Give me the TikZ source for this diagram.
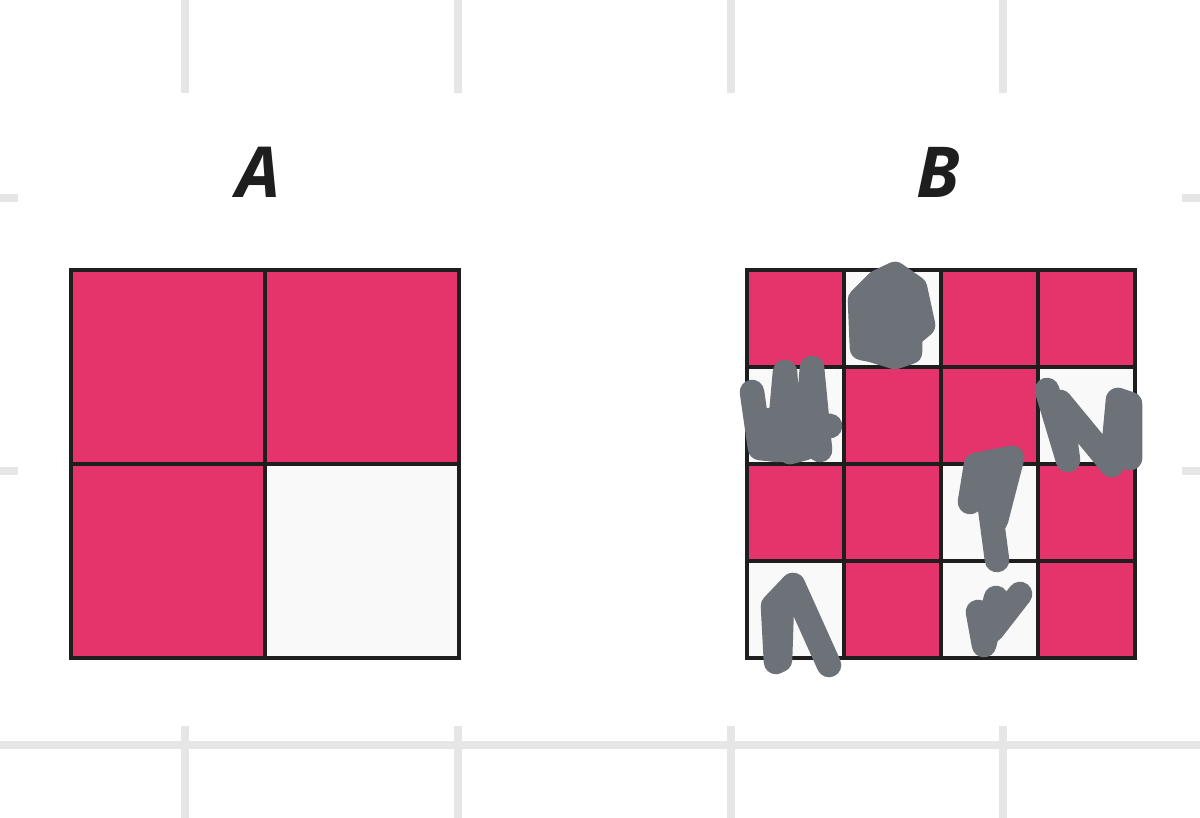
\documentclass[tikz,border=0pt]{standalone}
\usepackage{xcolor}
\usepackage{fontspec}
\setsansfont{Open Sans}
\usepackage{tikz}
\definecolor{crimson}{HTML}{E5336B}
\definecolor{offwhite}{HTML}{F9F9F9}
\definecolor{inkblack}{HTML}{1E1E1E}
\definecolor{gridgray}{HTML}{E6E6E6}
\definecolor{scribble}{HTML}{6C7278}
\tikzset{
  gridline/.style={gridgray, line width=4.5pt},
  cellborder/.style={inkblack, line width=2.3pt},
  scrawl/.style={scribble, line width=14pt, line cap=round, line join=round},
  letter/.style={anchor=base, text=inkblack, font=\sffamily\bfseries\itshape\fontsize{40}{40}\selectfont}
}

\begin{document}
\begin{tikzpicture}[x=0.02cm, y=-0.02cm]
  \useasboundingbox (0,0) rectangle (1200,818);
  % background grid
  \foreach \x in {185, 458, 731, 1003} {
    \draw[gridline] (\x,0) -- (\x,93);
    \draw[gridline] (\x,726) -- (\x,818);
  }
  \draw[gridline] (0,745) -- (1200,745);
  \foreach \y in {198, 471} {
    \draw[gridline] (0,\y) -- (18,\y);
    \draw[gridline] (1182,\y) -- (1200,\y);
  }
  % square A
  \fill[crimson] (71,270) rectangle (459,658);
  \fill[offwhite] (265,464) rectangle (459,658);
  \draw[cellborder] (71,270) rectangle (459,658);
  \draw[cellborder] (265,270) -- (265,658);
  \draw[cellborder] (71,464) -- (459,464);
  \node[letter] (labA) at (259,197) {A};
  % square B
  \fill[crimson] (747,270) rectangle (1135,658);
  \foreach \c/\r in {1/0, 0/1, 3/1, 2/2, 0/3, 2/3}
    \fill[offwhite] (747+97*\c,270+97*\r) rectangle ++(97,97);
  \draw[cellborder] (747,270) rectangle (1135,658);
  \foreach \i in {1,2,3} {
    \draw[cellborder] (747+97*\i,270) -- (747+97*\i,658);
    \draw[cellborder] (747,270+97*\i) -- (1135,270+97*\i);
  }
  \node[letter] (labB) at (938,197) {B};
  % scribbles over the blank cells
  \filldraw[scrawl] (862,348) -- (860,300) -- (878,282) -- (895,274) -- (915,288)
    -- (923,325) -- (910,336) -- (910,352) -- (895,357) -- (872,350) -- cycle;
  \draw[scrawl] (752,392) -- (760,448) -- (778,450) -- (785,372) -- (790,452) -- (805,448)
    -- (812,368) -- (820,450);
  \draw[scrawl] (770,420) -- (830,426);
  \draw[scrawl] (1047,390) -- (1068,460) -- (1060,402) -- (1112,465) -- (1118,400)
    -- (1130,404) -- (1130,458) -- (1120,455) -- (1122,410);
  \draw[scrawl] (970,502) -- (976,465) -- (1012,458) -- (996,520);
  \draw[scrawl] (985,470) -- (997,560);
  \draw[scrawl] (978,612) -- (984,645) -- (996,598) -- (992,630) -- (1020,594);
  \draw[scrawl] (776,662) -- (773,606) -- (793,585) -- (829,665);
  \draw[scrawl] (782,600) -- (780,660);
\end{tikzpicture}
\end{document}
